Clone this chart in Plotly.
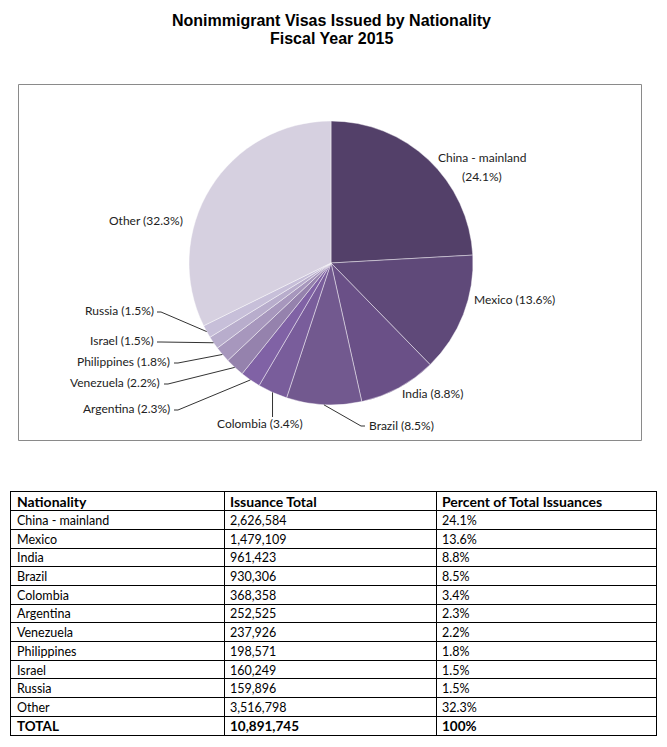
import math
import plotly.graph_objects as go

# ---------------- data ----------------
nationalities = ["China - mainland", "Mexico", "India", "Brazil", "Colombia",
                 "Argentina", "Venezuela", "Philippines", "Israel", "Russia", "Other"]
issuance = [2626584, 1479109, 961423, 930306, 368358,
            252525, 237926, 198571, 160249, 159896, 3516798]
title_lines = ["Nonimmigrant Visas Issued by Nationality", "Fiscal Year 2015"]
table_headers = ["Nationality", "Issuance Total", "Percent of Total Issuances"]
total_label = "TOTAL"

# ---------------- style ----------------
W, H = 667, 747
slice_colors = ["#534069", "#5f4979", "#6a5087", "#72598f", "#795d9b",
                "#8062a5", "#9582ad", "#a797bd", "#b8adcc", "#c7bfd9", "#d6d0e0"]
PIE_CX, PIE_CY, PIE_R = 331, 263, 142
LABEL_FONT = dict(family="Lato, Carlito, Calibri, sans-serif", size=12, color="#222")
TABLE_FONT = dict(family="Lato, Carlito, Calibri, sans-serif", size=12.5, color="#000")
HEADER_FONT = dict(family="Lato, Carlito, Calibri, sans-serif", size=14, color="#000")
TOTAL_FONT = dict(family="Lato, Carlito, Calibri, sans-serif", size=13.5, color="#000")
TABLE_LEFT, TABLE_RIGHT, TABLE_TOP, TABLE_BOTTOM = 11, 656, 492, 735
COL_WIDTHS = [213, 212, 220]
TEXT_PAD = 6
TEXT_ROW_OFFSET = 0.6  # vertical text position inside a row (fraction of row height)

# label placement (pixels)
label_layout = {
    "China - mainland": dict(x=482, y=158, xanchor="center", lead=None, split=True),
    "Mexico": dict(x=472, y=299, xanchor="left", lead=None),
    "India": dict(x=400, y=393, xanchor="left", lead=None),
    "Brazil": dict(x=367, y=425, xanchor="left", lead=(365, 426, -4)),
    "Colombia": dict(x=260, y=424, xanchor="center", lead="vertical"),
    "Argentina": dict(x=172, y=408, xanchor="right", lead=(174, 410, 4)),
    "Venezuela": dict(x=162, y=382, xanchor="right", lead=(164, 384, 4)),
    "Philippines": dict(x=172, y=361, xanchor="right", lead=(174, 363, 4)),
    "Israel": dict(x=156, y=340, xanchor="right", lead=(157, 342, 4)),
    "Russia": dict(x=156, y=310, xanchor="right", lead=(157, 312, 4)),
    "Other": dict(x=185, y=220, xanchor="right", lead=None),
}


def px(x):
    return x / W


def py(y):
    return 1 - y / H


total = sum(issuance)
pcts = [v / total * 100 for v in issuance]

fig = go.Figure()

# ---------------- pie ----------------
fig.add_trace(go.Pie(
    labels=nationalities, values=issuance, sort=False, direction="clockwise",
    rotation=0, textinfo="none", hoverinfo="label+percent",
    marker=dict(colors=slice_colors, line=dict(color="rgba(255,255,255,0.55)", width=0.8)),
    domain=dict(x=[px(PIE_CX - PIE_R), px(PIE_CX + PIE_R)],
                y=[py(PIE_CY + PIE_R), py(PIE_CY - PIE_R)]),
    showlegend=False,
))

annotations = []
shapes = []

# frame around the chart area
shapes.append(dict(type="rect", xref="paper", yref="paper",
                   x0=px(18.5), x1=px(641.5), y0=py(440.5), y1=py(84.5),
                   line=dict(color="#8a8a8a", width=1)))

# labels and leader lines derived from slice angles
cum = 0.0
for name, v, p in zip(nationalities, issuance, pcts):
    mid = (cum + v / 2) / total * 2 * math.pi
    cum += v
    ex = PIE_CX + PIE_R * math.sin(mid)
    ey = PIE_CY - PIE_R * math.cos(mid)
    L = label_layout[name]
    ptxt = f"({p:.1f}%)"
    if L.get("split"):
        for i, t in enumerate([name, ptxt]):
            annotations.append(dict(x=px(L["x"]), y=py(L["y"] + 18 * i), xref="paper", yref="paper",
                                    text=t, showarrow=False, xanchor="center", yanchor="middle",
                                    font=LABEL_FONT))
    else:
        annotations.append(dict(x=px(L["x"]), y=py(L["y"]), xref="paper", yref="paper",
                                text=f"{name} {ptxt}", showarrow=False, xanchor=L["xanchor"],
                                yanchor="middle", font=LABEL_FONT))
    lead = L["lead"]
    if lead == "vertical":
        path = f"M {px(ex)} {py(ey)} L {px(ex)} {py(L['y'] - 7)}"
        shapes.append(dict(type="path", xref="paper", yref="paper", path=path,
                           line=dict(color="#333", width=1)))
    elif lead is not None:
        lx, ly, elbow = lead
        path = (f"M {px(lx)} {py(ly)} L {px(lx + elbow)} {py(ly)} "
                f"L {px(ex)} {py(ey)}")
        shapes.append(dict(type="path", xref="paper", yref="paper", path=path,
                           line=dict(color="#333", width=1)))

# title
for i, t in enumerate(title_lines):
    annotations.append(dict(x=px(331), y=py(20 + 19 * i), xref="paper", yref="paper",
                            text=f"<b>{t}</b>", showarrow=False, xanchor="center", yanchor="middle",
                            font=dict(family="Liberation Sans, Arial, sans-serif", size=16, color="#000")))

# ---------------- table (text on a hidden grid axis) ----------------
col_texts = [
    list(nationalities),
    [f"{v:,}" for v in issuance],
    [f"{p:.1f}%" for p in pcts],
]
total_row = [total_label, f"{total:,}", f"{round(sum(pcts))}%"]
n_rows = len(nationalities) + 2
col_starts = [sum(COL_WIDTHS[:i]) for i in range(len(COL_WIDTHS))]
col_bounds = [sum(COL_WIDTHS[:i + 1]) for i in range(len(COL_WIDTHS))]

# body rows
bx, by, bt = [], [], []
for c, texts in enumerate(col_texts):
    for r, t in enumerate(texts):
        bx.append(col_starts[c] + TEXT_PAD)
        by.append(r + 1 + TEXT_ROW_OFFSET)
        bt.append(t)
fig.add_trace(go.Scatter(x=bx, y=by, text=bt, mode="text", textposition="middle right",
                         textfont=TABLE_FONT, hoverinfo="skip", showlegend=False,
                         xaxis="x", yaxis="y", cliponaxis=False))
# header row
fig.add_trace(go.Scatter(x=[s + TEXT_PAD for s in col_starts], y=[TEXT_ROW_OFFSET] * len(col_starts),
                         text=[f"<b>{h}</b>" for h in table_headers], mode="text",
                         textposition="middle right", textfont=HEADER_FONT, hoverinfo="skip",
                         showlegend=False, xaxis="x", yaxis="y", cliponaxis=False))
# total row
fig.add_trace(go.Scatter(x=[s + TEXT_PAD for s in col_starts],
                         y=[n_rows - 1 + TEXT_ROW_OFFSET] * len(col_starts),
                         text=[f"<b>{t}</b>" for t in total_row], mode="text",
                         textposition="middle right", textfont=TOTAL_FONT, hoverinfo="skip",
                         showlegend=False, xaxis="x", yaxis="y", cliponaxis=False))

grid_axis = dict(showgrid=True, gridcolor="#000", gridwidth=1, zeroline=False,
                 showticklabels=False, ticks="", showline=True, mirror=True,
                 linecolor="#000", linewidth=1, fixedrange=True)
fig.update_layout(
    xaxis=dict(domain=[px(TABLE_LEFT), px(TABLE_RIGHT)], range=[0, sum(COL_WIDTHS)],
               tickvals=col_bounds[:-1], **grid_axis),
    yaxis=dict(domain=[py(TABLE_BOTTOM), py(TABLE_TOP)], range=[n_rows, 0],
               tickvals=list(range(1, n_rows)), **grid_axis),
)

fig.update_layout(
    width=W, height=H, autosize=False,
    margin=dict(l=0, r=0, t=0, b=0),
    paper_bgcolor="white", plot_bgcolor="white",
    annotations=annotations, shapes=shapes,
    showlegend=False,
)

fig.write_html("out.html")
